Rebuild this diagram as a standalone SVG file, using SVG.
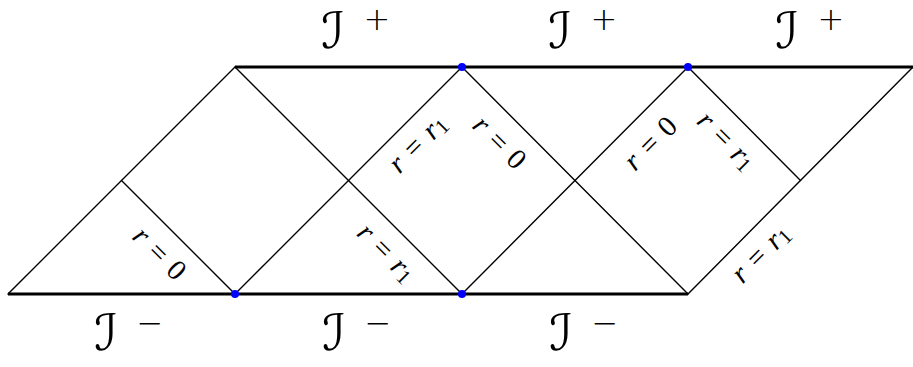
<svg xmlns="http://www.w3.org/2000/svg" width="913" height="367" viewBox="0 0 913 367">
<style>
.thin{stroke:#000;stroke-width:1.4;fill:none;stroke-linecap:round}
.thick{stroke:#000;stroke-width:3.2;fill:none}
.dot{fill:#0000ff}
.lbl{font-family:"Liberation Serif","DejaVu Serif",serif;font-size:29px;fill:#000}
.it{font-style:italic}
.scri{font-family:"DejaVu Serif","DejaVu Sans",serif;font-style:italic;font-size:50px;fill:#000;text-anchor:middle}
.sup{font-family:"DejaVu Sans",sans-serif;font-weight:300;font-size:32px;fill:#000;text-anchor:middle;dominant-baseline:central}
</style>
<rect width="913" height="367" fill="#fff"/>
<g id="connectors">
<line class="thick" x1="235" y1="67" x2="913" y2="67"/>
<line class="thick" x1="8" y1="294" x2="688" y2="294"/>
<line class="thin" x1="8" y1="294" x2="235" y2="67"/>
<line class="thin" x1="121.5" y1="180.5" x2="235" y2="294"/>
<line class="thin" x1="235" y1="67" x2="462" y2="294"/>
<line class="thin" x1="235" y1="294" x2="462" y2="67"/>
<line class="thin" x1="462" y1="67" x2="688" y2="294"/>
<line class="thin" x1="462" y1="294" x2="688" y2="67"/>
<line class="thin" x1="688" y1="67" x2="800.5" y2="180.5"/>
<line class="thin" x1="688" y1="294" x2="913" y2="67"/>
</g>
<g id="points">
<circle class="dot" cx="235" cy="294" r="4"/>
<circle class="dot" cx="462" cy="294" r="4"/>
<circle class="dot" cx="462" cy="67" r="4"/>
<circle class="dot" cx="688" cy="67" r="4"/>
</g>
<g id="labels">
<text class="lbl" transform="translate(160,253) rotate(45)" text-anchor="middle" dominant-baseline="central"><tspan class="it">r</tspan><tspan dx="10">=</tspan><tspan dx="10">0</tspan></text>
<text class="lbl" transform="translate(417,143) rotate(-45)" text-anchor="middle" dominant-baseline="central"><tspan class="it">r</tspan><tspan dx="10">=</tspan><tspan class="it" dx="10">r</tspan><tspan font-size="21" dy="6">1</tspan></text>
<text class="lbl" transform="translate(500,142) rotate(45)" text-anchor="middle" dominant-baseline="central"><tspan class="it">r</tspan><tspan dx="10">=</tspan><tspan dx="10">0</tspan></text>
<text class="lbl" transform="translate(387,252) rotate(45)" text-anchor="middle" dominant-baseline="central"><tspan class="it">r</tspan><tspan dx="10">=</tspan><tspan class="it" dx="10">r</tspan><tspan font-size="21" dy="6">1</tspan></text>
<text class="lbl" transform="translate(650,143) rotate(-45)" text-anchor="middle" dominant-baseline="central"><tspan class="it">r</tspan><tspan dx="10">=</tspan><tspan dx="10">0</tspan></text>
<text class="lbl" transform="translate(727,140) rotate(45)" text-anchor="middle" dominant-baseline="central"><tspan class="it">r</tspan><tspan dx="10">=</tspan><tspan class="it" dx="10">r</tspan><tspan font-size="21" dy="6">1</tspan></text>
<text class="lbl" transform="translate(760,253) rotate(-45)" text-anchor="middle" dominant-baseline="central"><tspan class="it">r</tspan><tspan dx="10">=</tspan><tspan class="it" dx="10">r</tspan><tspan font-size="21" dy="6">1</tspan></text>
</g>
<g id="scri">
<text class="scri" x="333" y="48">ℐ</text><text class="sup" x="377" y="19">+</text>
<text class="scri" x="560" y="48">ℐ</text><text class="sup" x="604" y="19">+</text>
<text class="scri" x="787" y="48">ℐ</text><text class="sup" x="831" y="19">+</text>
<text class="scri" x="106" y="350">ℐ</text><text class="sup" x="150" y="323">−</text>
<text class="scri" x="334" y="350">ℐ</text><text class="sup" x="378" y="323">−</text>
<text class="scri" x="561" y="350">ℐ</text><text class="sup" x="605" y="323">−</text>
</g>
</svg>
